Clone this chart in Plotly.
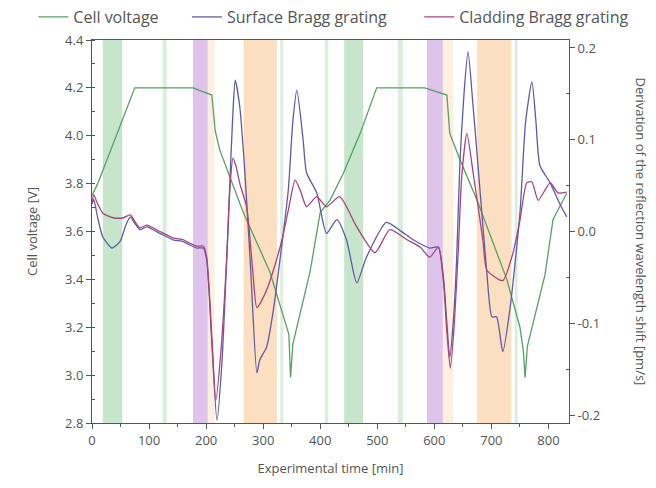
import plotly.graph_objects as go

# ---- data ----
volt_t = [0, 10, 75, 177, 210, 216, 224, 265, 312, 345, 348, 352, 382, 400, 417, 440, 470, 499,
          583, 622, 627, 645, 675, 727, 750, 756, 759, 763, 794, 808, 832]
volt_v = [3.75, 3.80, 4.20, 4.20, 4.17, 4.02, 3.94, 3.68, 3.43, 3.17, 2.99, 3.13, 3.43, 3.68, 3.73, 3.84, 4.01, 4.20,
          4.20, 4.17, 4.01, 3.90, 3.73, 3.40, 3.20, 3.10, 2.99, 3.12, 3.42, 3.65, 3.76]

surf_t = [0, 3, 10, 19, 35, 49, 60, 67, 75, 84, 96, 119, 142, 160, 172, 184, 195, 201, 210, 219, 228, 236,
          242, 247, 251, 259, 268, 278, 289, 294, 306, 318, 330, 344, 352, 359, 370, 376, 394, 411, 429, 446,
          464, 481, 516, 540, 563, 592, 607, 616, 622, 627, 633, 639, 645, 652, 659, 668, 680, 692, 701, 709,
          720, 733, 750, 760, 771, 778, 785, 803, 820, 832]
surf_d = [0.030, 0.035, 0.015, -0.006, -0.018, -0.011, 0.008, 0.016, 0.009, 0.002, 0.005, -0.002, -0.009,
          -0.011, -0.015, -0.018, -0.018, -0.031, -0.121, -0.206, -0.140, -0.031, 0.059, 0.130, 0.165, 0.136,
          0.064, -0.040, -0.154, -0.140, -0.126, -0.085, -0.028, 0.045, 0.120, 0.154, 0.100, 0.064, 0.042,
          -0.002, 0.013, -0.009, -0.056, -0.028, 0.010, 0.001, -0.009, -0.018, -0.017, -0.050, -0.100, -0.137,
          -0.100, -0.031, 0.078, 0.150, 0.196, 0.136, 0.045, -0.045, -0.093, -0.093, -0.131, -0.082, 0.020,
          0.120, 0.163, 0.120, 0.072, 0.053, 0.030, 0.016]

clad_t = [0, 3, 10, 19, 37, 55, 67, 75, 84, 96, 119, 142, 160, 172, 184, 195, 201, 210, 217, 226, 236, 242,
          247, 252, 260, 271, 282, 289, 306, 318, 333, 344, 356, 365, 376, 394, 411, 434, 464, 496, 522, 552,
          575, 592, 607, 616, 622, 628, 635, 642, 648, 657, 668, 685, 692, 715, 721, 738, 750, 762, 771, 782,
          803, 817, 832]
clad_d = [0.030, 0.040, 0.030, 0.020, 0.015, 0.015, 0.018, 0.011, 0.004, 0.007, 0.000, -0.007, -0.009,
          -0.013, -0.016, -0.016, -0.028, -0.115, -0.184, -0.130, -0.030, 0.050, 0.080, 0.072, 0.050, 0.027,
          -0.045, -0.083, -0.064, -0.042, -0.009, 0.023, 0.056, 0.045, 0.027, 0.038, 0.027, 0.038, 0.005,
          -0.023, 0.002, -0.009, -0.017, -0.028, -0.017, -0.055, -0.110, -0.149, -0.100, -0.020, 0.060, 0.107,
          0.064, -0.009, -0.042, -0.053, -0.053, -0.023, 0.012, 0.053, 0.054, 0.034, 0.053, 0.042, 0.043]

band_start = [19, 124, 177, 203, 266, 330, 408, 442, 536, 587, 615, 675, 741]
band_end = [53, 131, 203, 215, 324, 335, 414, 475, 545, 615, 633, 735, 746]
band_color = ["rgb(188,224,194)", "rgb(214,234,216)", "rgb(216,186,232)", "rgb(253,236,218)",
              "rgb(252,216,182)", "rgb(214,234,216)", "rgb(214,234,216)", "rgb(188,224,194)",
              "rgb(214,234,216)", "rgb(216,186,232)", "rgb(253,236,218)", "rgb(252,216,182)",
              "rgb(214,234,216)"]

GREEN = "#58a064"
BLUE = "#5c5ca6"
RED = "#a8447c"

fig = go.Figure()
fig.add_trace(go.Scatter(x=volt_t, y=volt_v, mode="lines", name="Cell voltage", legend="legend",
                         line=dict(color=GREEN, width=1.3)))
fig.add_trace(go.Scatter(x=surf_t, y=surf_d, mode="lines", name="Surface Bragg grating", yaxis="y2",
                         legend="legend2",
                         line=dict(color=BLUE, width=1.3, shape="spline", smoothing=0.6)))
fig.add_trace(go.Scatter(x=clad_t, y=clad_d, mode="lines", name="Cladding Bragg grating", yaxis="y2",
                         legend="legend3",
                         line=dict(color=RED, width=1.3, shape="spline", smoothing=0.6)))

shapes = []
for s, e, c in zip(band_start, band_end, band_color):
    shapes.append(dict(type="rect", xref="x", yref="paper", x0=s, x1=e, y0=0, y1=1,
                       fillcolor=c, line=dict(width=0), layer="below", opacity=0.85))

axis_font = dict(family="Open Sans", size=13, color="#555555")
leg_font = dict(family="Open Sans", size=16, color="#555555")


def leg(x):
    return dict(orientation="h", x=x, xanchor="left", y=1.06, yanchor="middle", font=leg_font,
                bgcolor="rgba(0,0,0,0)", itemwidth=30)


fig.update_layout(
    width=656, height=488,
    margin=dict(l=92, r=87, t=40, b=65, autoexpand=False),
    plot_bgcolor="white", paper_bgcolor="white",
    font=dict(family="Open Sans", size=13, color="#555555"),
    shapes=shapes,
    showlegend=True,
    legend=leg(-0.123),
    legend2=leg(0.199),
    legend3=leg(0.686),
    xaxis=dict(range=[0, 836], tickmode="linear", tick0=0, dtick=100, ticks="outside", ticklen=5,
               tickcolor="#555", showline=True, linecolor="#555", linewidth=1, mirror=True,
               showgrid=False, zeroline=False, tickfont=axis_font,
               minor=dict(dtick=50, ticks="outside", ticklen=3, tickcolor="#555"),
               title=dict(text="Experimental time [min]", font=axis_font, standoff=16)),
    yaxis=dict(range=[2.8, 4.4], tickmode="linear", tick0=2.8, dtick=0.2, tickformat=".1f",
               ticks="outside", ticklen=5, tickcolor="#555", showline=True, linecolor="#555",
               showgrid=False, zeroline=False, tickfont=axis_font,
               minor=dict(dtick=0.1, ticks="inside", ticklen=3, tickcolor="#555"),
               title=dict(text="Cell voltage [V]", font=axis_font, standoff=24)),
    yaxis2=dict(range=[-0.2087, 0.2087], overlaying="y", side="right", tickmode="array",
                tickvals=[-0.2, -0.1, 0.0, 0.1, 0.2], ticktext=["-0.2", "-0.1", "0.0", "0.1", "0.2"],
                ticks="outside", ticklen=5, tickcolor="#555", showline=True, linecolor="#555",
                showgrid=False, zeroline=False, tickfont=axis_font,
                minor=dict(tickvals=[-0.15, -0.05, 0.05, 0.15], ticks="inside", ticklen=3, tickcolor="#555")),
    annotations=[dict(text="Derivation of the reflection wavelength shift [pm/s]", textangle=90,
                      xref="paper", yref="paper", x=1.0, xshift=72, y=0.5, showarrow=False,
                      font=axis_font, xanchor="center", yanchor="middle")],
)

fig.write_html("out.html")
